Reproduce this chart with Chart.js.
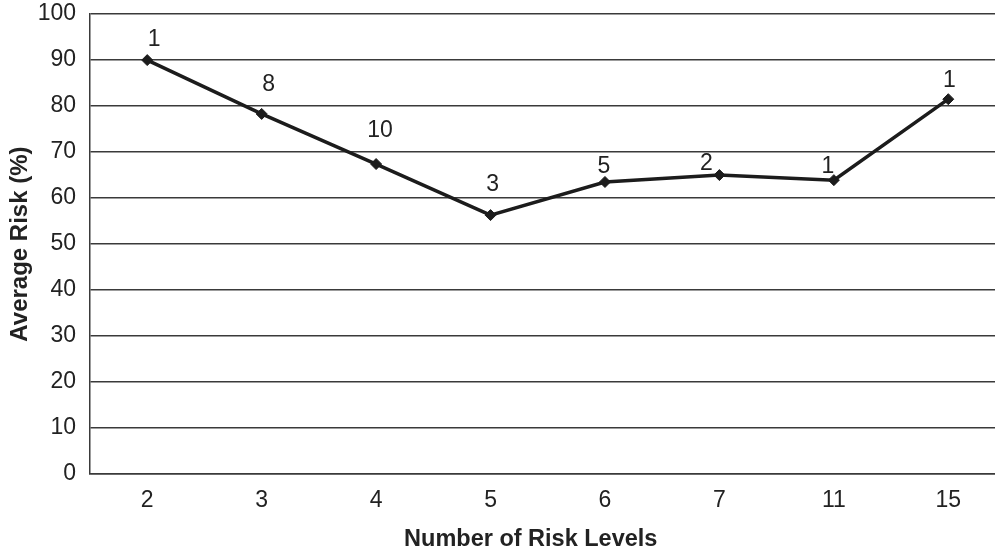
<!DOCTYPE html>
<html>
<head>
<meta charset="utf-8">
<script src="https://cdn.jsdelivr.net/npm/chart.js@4/dist/chart.umd.min.js"></script>
<style>
  html, body { margin: 0; padding: 0; background: #fff; overflow: hidden; }
  #wrap { width: 1012px; height: 550px; }
</style>
</head>
<body>
<div id="wrap"><canvas id="c" width="1012" height="550"></canvas></div>
<script>
// Number of risk levels (category axis)
const riskLevels = ['2', '3', '4', '5', '6', '7', '11', '15'];
// Average risk per number of levels, in percent
const averageRisk = [90.0, 78.3, 67.4, 56.3, 63.5, 65.0, 63.9, 81.5];
// Count of cases behind each point (shown as point labels)
const caseCounts = [1, 8, 10, 3, 5, 2, 1, 1];
// Y-axis tick values
const yTicks = [0, 10, 20, 30, 40, 50, 60, 70, 80, 90, 100];

// Hand-placed label offsets (dx, dy) relative to each point
const labelOffsets = [[7, -20], [7, -29], [4, -33], [2, -30], [-1, -15], [-13, -11], [-6, -13], [1, -19]];

const ink = '#1c1c1c';
const textColor = '#222';
const gridColor = '#3a3a3a';
const fontFamily = '"Liberation Sans", Arial, Helvetica, sans-serif';

// Case-count labels next to each point
const pointLabels = {
  id: 'pointLabels',
  afterDatasetsDraw(chart) {
    const ctx = chart.ctx;
    const meta = chart.getDatasetMeta(0);
    ctx.save();
    ctx.font = '23px ' + fontFamily;
    ctx.fillStyle = textColor;
    ctx.textAlign = 'center';
    ctx.textBaseline = 'middle';
    meta.data.forEach((pt, i) => {
      const off = labelOffsets[i];
      ctx.fillText(String(caseCounts[i]), pt.x + off[0], pt.y + off[1]);
    });
    ctx.restore();
  }
};

// X-axis title, set slightly left of the plot centre
const xTitle = {
  id: 'xTitle',
  afterDraw(chart) {
    const ctx = chart.ctx;
    const area = chart.chartArea;
    ctx.save();
    ctx.font = 'bold 23.5px ' + fontFamily;
    ctx.fillStyle = textColor;
    ctx.textAlign = 'center';
    ctx.textBaseline = 'middle';
    ctx.fillText('Number of Risk Levels', (area.left + area.right) / 2 - 17, area.bottom + 66);
    ctx.restore();
  }
};

new Chart(document.getElementById('c'), {
  type: 'line',
  data: {
    labels: riskLevels,
    datasets: [{
      data: averageRisk,
      borderColor: ink,
      borderWidth: 3.5,
      backgroundColor: ink,
      pointStyle: 'rectRot',
      pointRadius: 5.5,
      pointBackgroundColor: ink,
      pointBorderColor: ink,
      pointBorderWidth: 1,
      tension: 0,
      fill: false
    }]
  },
  options: {
    responsive: false,
    animation: false,
    layout: { padding: { top: 0, left: 0, right: 0, bottom: 0 } },
    plugins: { legend: { display: false }, tooltip: { enabled: false } },
    scales: {
      x: {
        offset: true,
        grid: { display: false, drawTicks: false },
        border: { display: true, color: gridColor, width: 1.5 },
        ticks: { color: textColor, font: { family: fontFamily, size: 23 }, padding: 13 },
        afterFit(scale) { scale.height = 76; }
      },
      y: {
        min: 0,
        max: 100,
        afterBuildTicks(scale) { scale.ticks = yTicks.map(v => ({ value: v })); },
        grid: { color: gridColor, lineWidth: 1.5, drawTicks: false },
        border: { display: true, color: gridColor, width: 1.5 },
        ticks: { color: textColor, font: { family: fontFamily, size: 23, lineHeight: 0.01 }, padding: 14 },
        title: {
          display: true,
          text: 'Average Risk (%)',
          color: textColor,
          font: { family: fontFamily, size: 24, weight: 'bold' },
          padding: { top: 6, bottom: 0 }
        },
        afterFit(scale) { scale.width = 90; }
      }
    }
  },
  plugins: [pointLabels, xTitle]
});
</script>
</body>
</html>
